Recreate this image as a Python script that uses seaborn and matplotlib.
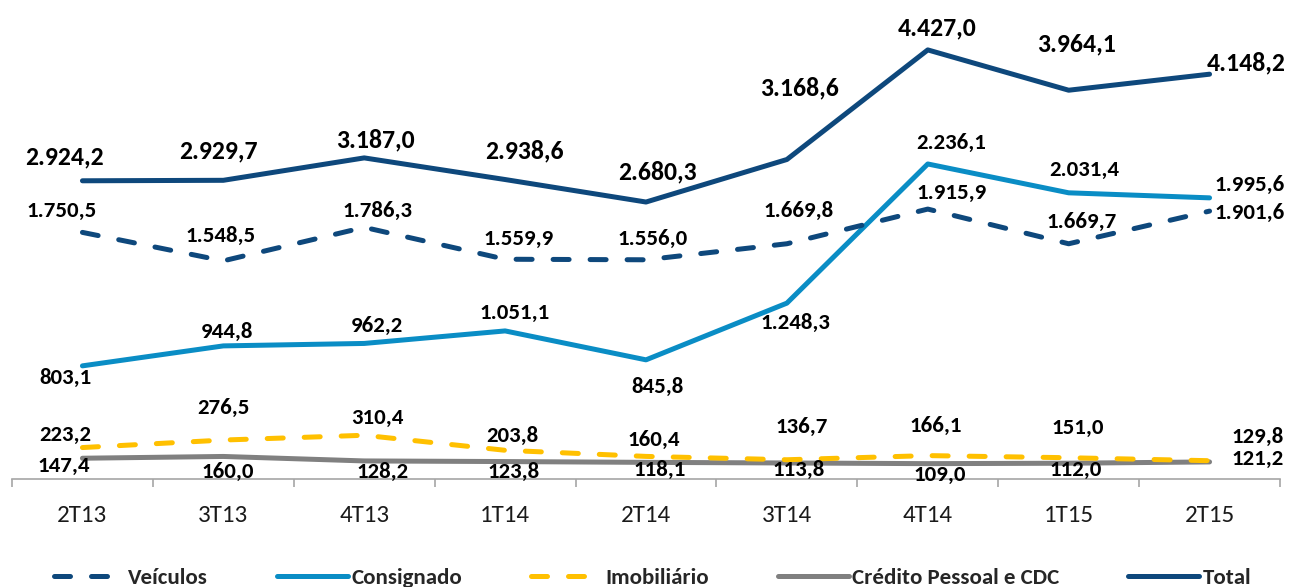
import numpy as np
import matplotlib
matplotlib.use("Agg")
import matplotlib.pyplot as plt
from matplotlib.ticker import FixedLocator
import seaborn as sns

# dados (R$ milhões) por trimestre
quarters = ["2T13", "3T13", "4T13", "1T14", "2T14", "3T14", "4T14", "1T15", "2T15"]
veiculos = [1750.5, 1548.5, 1786.3, 1559.9, 1556.0, 1669.8, 1915.9, 1669.7, 1901.6]
consignado = [803.1, 944.8, 962.2, 1051.1, 845.8, 1248.3, 2236.1, 2031.4, 1995.6]
imobiliario = [223.2, 276.5, 310.4, 203.8, 160.4, 136.7, 166.1, 151.0, 129.8]
credito = [147.4, 160.0, 128.2, 123.8, 118.1, 113.8, 109.0, 112.0, 121.2]
total = [2924.2, 2929.7, 3187.0, 2938.6, 2680.3, 3168.6, 4427.0, 3964.1, 4148.2]

# posição dos rótulos (pixels: dx para a direita, dy para baixo)
off_veiculos = [(-21, -21), (-3, -25), (13, -16), (13, -20), (7, -21), (12, -33), (24, -16), (13, -22), (40, 2)]
off_consignado = [(-17, 12), (4, -14), (13, -18), (9, -18), (11, 27), (9, 20), (23, -21), (16, -23), (40, -13)]
off_imobiliario = [(-17, -13), (0, -32), (13, -17), (7, -14), (8, -16), (15, -33), (8, -30), (9, -30), (48, -24)]
off_credito = [(-19, 8), (4, 15), (18, 11), (8, 10), (14, 8), (12, 7), (12, 11), (7, 7), (48, -3)]
off_total = [(-18, -24), (-5, -29), (11, -18), (19, -29), (11, -30), (13, -72), (9, -22), (8, -46), (37, -11)]

NAVY = "#0E487C"
BLUE = "#0A8DC5"
GOLD = "#FFC000"
GRAY = "#808080"
AXIS = "#A6A6A6"


def br(v):
    s = f"{v:,.1f}"
    return s.replace(",", "X").replace(".", ",").replace("X", ".")


sns.set_theme(style="white")
plt.rcParams["font.family"] = ["Carlito", "DejaVu Sans"]

fig = plt.figure(figsize=(12.93, 5.87), dpi=100)
ax = fig.add_axes([12 / 1293, 108 / 587, 1268 / 1293, 479 / 587])
ax2 = ax.twinx()

lw = 3.6
dash = (0, (3.2, 4.2))
sns.lineplot(x=quarters, y=credito, ax=ax, color=GRAY, lw=lw, label="Crédito Pessoal e CDC",
             solid_capstyle="round", legend=False)
sns.lineplot(x=quarters, y=imobiliario, ax=ax, color=GOLD, lw=lw, linestyle=dash,
             dash_capstyle="round", label="Imobiliário", legend=False)
sns.lineplot(x=quarters, y=consignado, ax=ax, color=BLUE, lw=lw, label="Consignado",
             solid_capstyle="round", legend=False)
sns.lineplot(x=quarters, y=veiculos, ax=ax, color=NAVY, lw=lw, linestyle=dash,
             dash_capstyle="round", label="Veículos", legend=False)
sns.lineplot(x=quarters, y=total, ax=ax2, color=NAVY, lw=lw, label="Total",
             solid_capstyle="round", legend=False)

ax.set_xlim(-0.5, len(quarters) - 0.5)
ax.set_ylim(0, 3400)
ax2.set_ylim(-500, 5000)


def put_labels(axis, values, offs, size):
    for i, (v, (dx, dy)) in enumerate(zip(values, offs)):
        axis.annotate(br(v), (i, v), xytext=(dx, -dy), textcoords="offset pixels",
                      ha="center", va="center", fontsize=size, fontweight="bold",
                      color="black", annotation_clip=False)


put_labels(ax, veiculos, off_veiculos, 16.5)
put_labels(ax, consignado, off_consignado, 16.5)
put_labels(ax, imobiliario, off_imobiliario, 16.5)
put_labels(ax, credito, off_credito, 16.5)
put_labels(ax2, total, off_total, 18.5)

for a in (ax, ax2):
    for side in ("top", "right", "left"):
        a.spines[side].set_visible(False)
    a.set_yticks([])
    a.set_ylabel("")
ax2.spines["bottom"].set_visible(False)
ax.spines["bottom"].set_color(AXIS)
ax.spines["bottom"].set_linewidth(1.2)

ax.xaxis.set_minor_locator(FixedLocator(np.arange(-0.5, len(quarters), 1.0)))
ax.tick_params(axis="x", which="minor", bottom=True, length=6, width=1.2, color=AXIS, direction="out")
ax.tick_params(axis="x", which="major", length=0, pad=19, labelsize=18, labelcolor="#1a1a1a")

handles = []
for a in (ax, ax2):
    handles += a.get_lines()
order = ["Veículos", "Consignado", "Imobiliário", "Crédito Pessoal e CDC", "Total"]
hmap = {h.get_label(): h for h in handles}
leg = fig.legend([hmap[k] for k in order], order, loc="center", bbox_to_anchor=(0.5046, 0.015),
                 ncol=5, frameon=False, handlelength=3.1, handletextpad=0.15, columnspacing=3.0,
                 prop={"weight": "bold", "size": 16.5})

fig.savefig("out.png", dpi=100)
